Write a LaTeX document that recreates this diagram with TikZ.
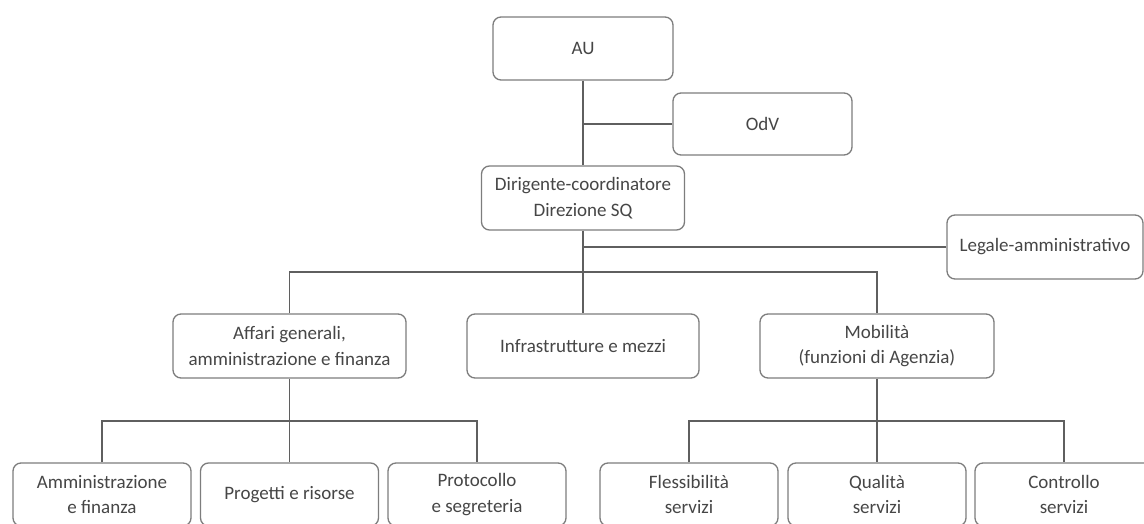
\documentclass[tikz,border=0pt]{standalone}
\usepackage{fontspec}
\setmainfont{Carlito}
\usepackage{tikz}

\definecolor{boxgray}{RGB}{125,125,125}
\definecolor{linegray}{RGB}{95,95,95}
\definecolor{txtgray}{RGB}{70,70,70}

\tikzset{
  unit/.style={draw=boxgray, line width=1.3pt, rounded corners=8pt, fill=white,
    align=center, inner sep=0pt, minimum height=64pt, minimum width=178pt,
    text=txtgray, font=\fontsize{19}{25.5}\selectfont},
  link/.style={draw=linegray, line width=1.3pt}
}

\begin{document}
\begin{tikzpicture}[x=1pt,y=1pt]
    \useasboundingbox (0,0) rectangle (1144,524);

    % Vertice
    \node[unit, minimum width=180pt, minimum height=63pt] (au) at (583,475.5) {AU};
    \node[unit, minimum width=179pt, minimum height=62pt] (odv) at (762.5,400) {OdV};
    \node[unit, minimum width=203pt] (dir) at (583,326) {Dirigente-coordinatore\\Direzione SQ};
    \node[unit, minimum width=196pt] (leg) at (1045,277) {Legale-amministrativo};

    % Aree
    \node[unit, minimum width=233pt] (aff) at (289.5,178) {Affari generali,\\amministrazione e finanza};
    \node[unit, minimum width=232pt] (inf) at (583,178) {Infrastrutture e mezzi};
    \node[unit, minimum width=234pt] (mob) at (877,178) {Mobilità\\(funzioni di Agenzia)};

    % Uffici
    \node[unit, minimum height=63pt] (amm) at (102,29.5) {Amministrazione\\e finanza};
    \node[unit, minimum height=63pt] (prg) at (289.5,29.5) {Progetti e risorse};
    \node[unit, minimum height=63pt] (prt) at (477,29.5) {Protocollo\\e segreteria};
    \node[unit, minimum height=63pt] (fle) at (689,29.5) {Flessibilità\\servizi};
    \node[unit, minimum height=63pt] (qua) at (877,29.5) {Qualità\\servizi};
    \node[unit, minimum height=63pt] (ctr) at (1064,29.5) {Controllo\\servizi};

    % Collegamenti
    \coordinate (bus1) at (0,252);
    \coordinate (bus2) at (0,103);
    \draw[link] (au) -- (dir);
    \draw[link] (odv.west) -- (odv.west -| au.south);
    \draw[link] (leg.west) -- (leg.west -| dir.south);
    \draw[link] (dir) -- (inf);
    \draw[link] (aff.north) |- (mob.north |- bus1) -- (mob.north);
    \draw[link] (aff) -- (prg);
    \draw[link] (amm.north) |- (prt.north |- bus2) -- (prt.north);
    \draw[link] (mob) -- (qua);
    \draw[link] (fle.north) |- (ctr.north |- bus2) -- (ctr.north);
\end{tikzpicture}
\end{document}
